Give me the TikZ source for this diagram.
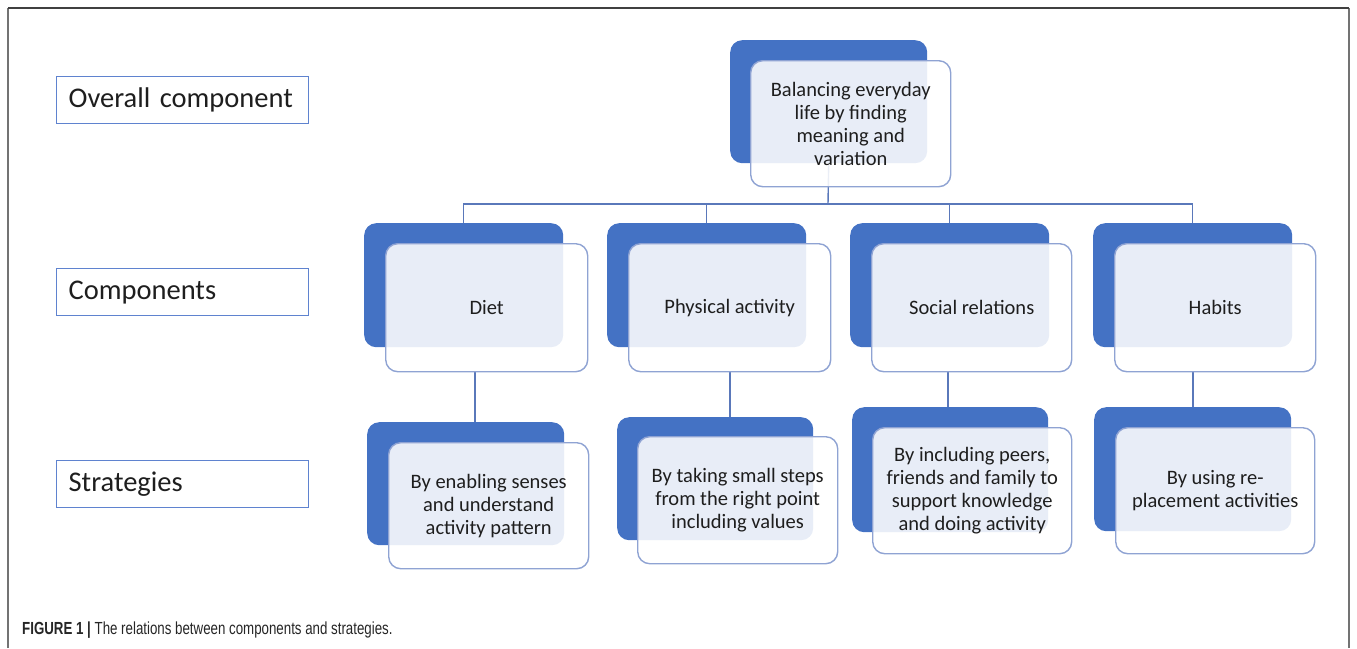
\documentclass[tikz,border=0pt]{standalone}
\usepackage{fontspec}
\setmainfont{Carlito}
\newfontfamily\capfont[FakeStretch=0.76]{Liberation Sans}
\definecolor{boxblue}{HTML}{4472C4}
\definecolor{frontedge}{HTML}{8FA3D3}
\definecolor{lineblue}{HTML}{5A78BA}
\definecolor{lbledge}{HTML}{5F83CF}
\definecolor{txt}{HTML}{1E1E1E}
\tikzset{
  back/.style={anchor=north west, fill=boxblue, draw=none, rounded corners=12pt, inner sep=0pt},
  front/.style={anchor=north west, fill=white, fill opacity=0.88, text opacity=1, draw=frontedge, line width=1.4pt, rounded corners=12pt, inner sep=0pt, align=center, text=txt, font=\fontsize{20.5}{23}\selectfont},
  lbl/.style={anchor=north west, draw=lbledge, line width=1.3pt, text width=228pt, inner xsep=12pt, inner ysep=0pt, minimum height=47pt, align=left, text=txt, font=\fontsize{28.5}{32}\selectfont},
  conn/.style={draw=lineblue, line width=1.4pt},
  frame/.style={line width=1.6pt}
}
\begin{document}
\begin{tikzpicture}[x=1pt,y=-1pt]
\useasboundingbox (0,0) rectangle (1357,648);
% frame
\draw[frame, draw=black!55] (8,648) -- (8,8);
\draw[frame, draw=black!55] (1349,648) -- (1349,8);
\draw[frame, draw=black!75] (8,8) -- (1349,8);
% left labels
\node[lbl] (l1) at (56,76) {Overall component};
\node[lbl] (l2) at (56,268) {Components};
\node[lbl] (l3) at (56,460) {Strategies};
% back boxes
\node[back, minimum width=197pt, minimum height=123pt] (tb) at (730,40) {};
\node[back, minimum width=199pt, minimum height=124pt] (c1b) at (364,223) {};
\node[back, minimum width=199pt, minimum height=124pt] (c2b) at (607,223) {};
\node[back, minimum width=199pt, minimum height=124pt] (c3b) at (850,223) {};
\node[back, minimum width=199pt, minimum height=124pt] (c4b) at (1093,223) {};
\node[back, minimum width=197pt, minimum height=123pt] (s1b) at (367,422) {};
\node[back, minimum width=196pt, minimum height=123pt] (s2b) at (617,417) {};
\node[back, minimum width=196pt, minimum height=125pt] (s3b) at (852,407) {};
\node[back, minimum width=197pt, minimum height=124pt] (s4b) at (1094,407) {};
% connectors
\coordinate (hb) at (828,204);
\draw[conn] (tb.south) -- (hb);
\draw[conn] (c1b.north) |- (hb) -| (c4b.north);
\draw[conn] (c2b.north) -- (c2b.north |- hb);
\draw[conn] (c3b.north) -- (c3b.north |- hb);
\draw[conn] (475,371) coordinate (d1) -- (d1 |- s1b.north);
\draw[conn] (730,371) coordinate (d2) -- (d2 |- s2b.north);
\draw[conn] (948,371) coordinate (d3) -- (d3 |- s3b.north);
\draw[conn] (1193,371) coordinate (d4) -- (d4 |- s4b.north);
% front boxes
\node[front, minimum width=200pt, minimum height=126pt] (tf) at (750,60) {Balancing everyday\\life by finding\\meaning and\\variation};
\node[front, minimum width=202pt, minimum height=128pt] (c1f) at (385,243) {Diet};
\node[front, minimum width=202pt, minimum height=128pt] (c2f) at (628,243) {Physical activity};
\node[front, minimum width=200pt, minimum height=128pt] (c3f) at (871,243) {Social relations};
\node[front, minimum width=201pt, minimum height=128pt] (c4f) at (1114,243) {Habits};
\node[front, minimum width=200pt, minimum height=126pt] (s1f) at (388,442) {By enabling senses\\and understand\\activity pattern};
\node[front, minimum width=200pt, minimum height=127pt] (s2f) at (637,436) {By taking small steps\\from the right point\\including values};
\node[front, minimum width=199pt, minimum height=126pt] (s3f) at (872,427) {By including peers,\\friends and family to\\support knowledge\\and doing activity};
\node[front, minimum width=199pt, minimum height=126pt] (s4f) at (1115,427) {By using re-\\placement activities};
% caption
\node[anchor=base west, inner sep=0pt, text=black!85, font=\capfont\fontsize{17.5}{20}\selectfont] (cap) at (22,634) {\textbf{FIGURE 1 |} The relations between components and strategies.};
\end{tikzpicture}
\end{document}
